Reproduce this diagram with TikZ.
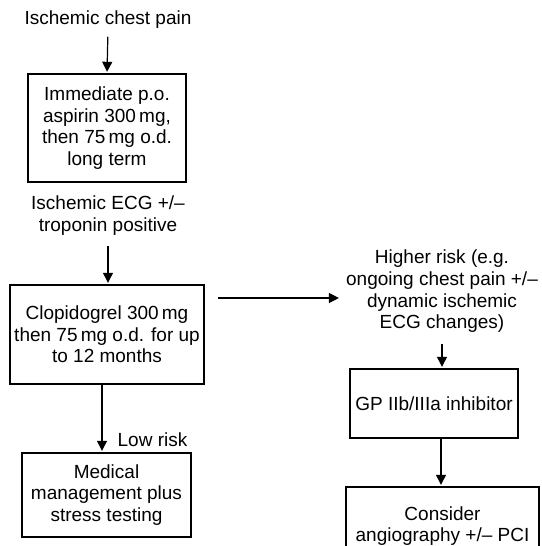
\documentclass[tikz,border=0pt]{standalone}
\usepackage{fontspec}
\setmainfont{Liberation Sans}
\usetikzlibrary{arrows.meta}
\begin{document}
\begin{tikzpicture}[x=1pt,y=-1pt,
  every node/.style={font=\fontsize{19}{21.7}\selectfont, inner sep=0pt, align=center},
  box/.style={draw, line width=1.4pt},
  arr/.style={line width=1.2pt, -{Triangle[width=10pt,length=10pt]}}]
\useasboundingbox (0,0) rectangle (541,546);
\clip (0,0) rectangle (541,546);
\fill[white] (0,0) rectangle (541,546);

\node (t1) at (108,20) {Ischemic chest pain};
\node[box, minimum width=158pt, minimum height=108pt] (b1) at (107,128)
  {Immediate p.o.\\aspirin 300\,mg,\\then 75\,mg o.d.\\long term};
\node (t2) at (108,215.4) {Ischemic ECG +/–\\troponin positive};
\node[box, minimum width=194pt, minimum height=99pt] (b2) at (107,334.5)
  {Clopidogrel 300\,mg\\then 75\,mg o.d. for up\\to 12 months};
\node[box, minimum width=169pt, minimum height=84pt] (b3) at (106.5,495)
  {Medical\\management plus\\stress testing};
\node (low) at (152.5,440) {Low risk};
\node (t3) at (442,291.5) {Higher risk (e.g.\\ongoing chest pain +/–\\dynamic ischemic\\ECG changes)};
\node[box, minimum width=168pt, minimum height=69pt] (b4) at (434,403.5)
  {\raisebox{-6.5pt}{GP IIb/IIIa inhibitor}};
\node[box, minimum width=193pt, minimum height=78pt] (b5) at (442.5,526)
  {Consider\\angiography +/– PCI};

\coordinate (h0) at (218,298);

\draw[arr, shorten <=7.7pt, shorten >=1.5pt] (t1.south) -- (b1.north);
\draw[arr, shorten <=11pt, shorten >=1.5pt] (t2.south) -- (t2.south |- b2.north);
\draw[arr, shorten >=1.5pt] ([xshift=-4.5pt]b3.north |- b2.south) -- ([xshift=-4.5pt]b3.north);
\draw[arr, shorten >=7pt] (h0) -- (h0 -| t3.west);
\draw[arr, shorten <=11pt, shorten >=1.5pt] (t3.south) -- (t3.south |- b4.north);
\draw[arr, shorten >=1.5pt] ([xshift=-1.5pt]b5.north |- b4.south) -- ([xshift=-1.5pt]b5.north);
\end{tikzpicture}
\end{document}
